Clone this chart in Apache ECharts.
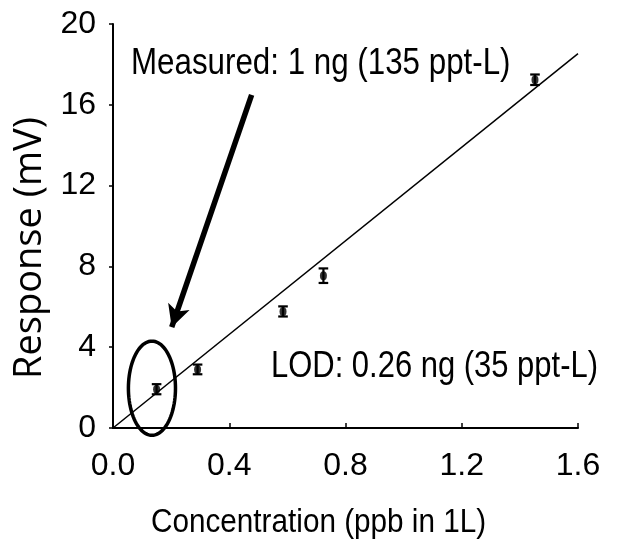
<!DOCTYPE html>
<html>
<head>
<meta charset="utf-8">
<script src="https://cdn.jsdelivr.net/npm/echarts@6/dist/echarts.min.js"></script>
<style>html,body{margin:0;padding:0;background:#fff}#c{width:618px;height:548px}</style>
</head>
<body>
<div id="c"></div>
<script>
// ---- data ----
const concentration = [0.150, 0.291, 0.585, 0.724, 1.452];
const response = [1.92, 2.90, 5.77, 7.54, 17.24];
const errorHalf = [0.25, 0.24, 0.25, 0.36, 0.26];
const fitX = [0, 1.60];
const fitY = [0, 18.53];
const arrowFrom = [0.477, 16.49];
const arrowTo = [0.202, 4.99];
const ellipseCenter = [0.134, 1.97];
const ellipseRadius = [0.081, 2.33];
const xAxisTitle = 'Concentration (ppb in 1L)';
const yAxisTitle = 'Response (mV)';
const noteMeasured = 'Measured: 1 ng (135 ppt-L)';
const noteLOD = 'LOD: 0.26 ng (35 ppt-L)';

const FONT = "'Liberation Sans',Arial,sans-serif";
const chart = echarts.init(document.getElementById('c'), null, {renderer: 'canvas'});

const points = concentration.map((x, i) => [x, response[i]]);
const errData = concentration.map((x, i) => [x, response[i] - errorHalf[i], response[i] + errorHalf[i]]);
const fitData = fitX.map((x, i) => [x, fitY[i]]);

chart.setOption({
  animation: false,
  backgroundColor: '#fff',
  grid: {left: 113, top: 24, right: 40, bottom: 120, containLabel: false},
  xAxis: {
    type: 'value', min: 0, max: 1.6, interval: 0.4,
    axisLine: {show: true, lineStyle: {color: '#000', width: 2}},
    axisTick: {show: true, inside: true, length: 5, lineStyle: {color: '#000', width: 1.5}},
    splitLine: {show: false},
    axisLabel: {color: '#000', fontSize: 32, fontFamily: FONT, margin: 22,
      formatter: v => v.toFixed(1)}
  },
  yAxis: {
    type: 'value', min: 0, max: 20, interval: 4,
    axisLine: {show: true, lineStyle: {color: '#000', width: 2}},
    axisTick: {show: true, inside: false, length: 4, lineStyle: {color: '#000', width: 1.5}},
    splitLine: {show: false},
    axisLabel: {color: '#000', fontSize: 32, fontFamily: FONT, margin: 17}
  },
  graphic: [
    {type: 'text', x: 131, y: 46.5, scaleX: 0.87,
      style: {text: noteMeasured, font: "36px " + FONT, fill: '#000', verticalAlign: 'top'}},
    {type: 'text', x: 271, y: 349.5, scaleX: 0.86,
      style: {text: noteLOD, font: "36px " + FONT, fill: '#000', verticalAlign: 'top'}},
    {type: 'text', x: 151, y: 506.5, scaleX: 0.9,
      style: {text: xAxisTitle, font: "33px " + FONT, fill: '#000', verticalAlign: 'top'}},
    {type: 'text', x: 30, y: 248, rotation: Math.PI / 2,
      style: {text: yAxisTitle, font: "38px 'Open Sans'", fill: '#000', align: 'center', verticalAlign: 'middle'}}
  ],
  series: [
    {
      type: 'line', data: fitData, symbol: 'none', silent: true,
      lineStyle: {color: '#000', width: 1.5},
      markLine: {
        silent: true, animation: false,
        symbol: ['none', 'arrow'], symbolSize: [17, 22],
        label: {show: false},
        lineStyle: {color: '#000', width: 5.5, type: 'solid'},
        data: [[{coord: arrowFrom}, {coord: arrowTo}]]
      }
    },
    {
      type: 'custom', silent: true,
      data: errData,
      renderItem: function (params, api) {
        const x = api.value(0);
        const lo = api.coord([x, api.value(1)]);
        const hi = api.coord([x, api.value(2)]);
        const hw = 4.8;
        const st = {stroke: '#000', lineWidth: 2.2};
        return {type: 'group', children: [
          {type: 'line', shape: {x1: lo[0], y1: lo[1], x2: hi[0], y2: hi[1]}, style: st},
          {type: 'line', shape: {x1: lo[0] - hw, y1: lo[1], x2: lo[0] + hw, y2: lo[1]}, style: st},
          {type: 'line', shape: {x1: hi[0] - hw, y1: hi[1], x2: hi[0] + hw, y2: hi[1]}, style: st}
        ]};
      }
    },
    {
      type: 'scatter', data: points, symbol: 'circle', symbolSize: [7, 9], silent: true,
      itemStyle: {color: '#000'}
    },
    {
      type: 'custom', silent: true, clip: false,
      data: [[ellipseCenter[0], ellipseCenter[1], ellipseRadius[0], ellipseRadius[1]]],
      renderItem: function (params, api) {
        const cx = api.value(0), cy = api.value(1), rx = api.value(2), ry = api.value(3);
        const pts = [];
        for (let k = 0; k < 96; k++) {
          const t = k / 96 * Math.PI * 2;
          pts.push(api.coord([cx + rx * Math.cos(t), cy + ry * Math.sin(t)]));
        }
        return {type: 'polygon', shape: {points: pts}, style: {fill: 'none', stroke: '#000', lineWidth: 3.5}};
      }
    }
  ]
});
</script>
</body>
</html>
